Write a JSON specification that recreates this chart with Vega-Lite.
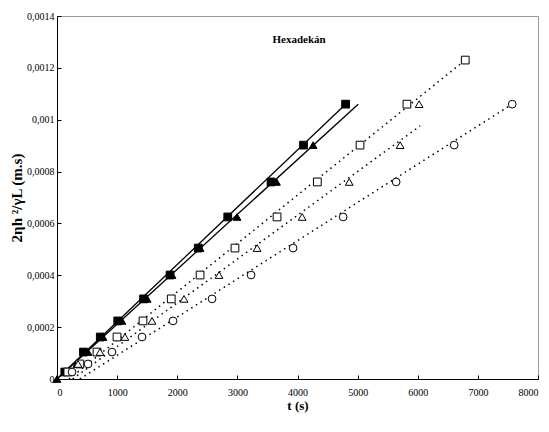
{
  "$schema": "https://vega.github.io/schema/vega-lite/v6.json",
  "width": 481,
  "height": 363,
  "autosize": {"type": "none"},
  "padding": {"left": 57, "top": 16, "right": 11, "bottom": 53},
  "config": {
    "locale": {"number": {"decimal": ",", "thousands": "", "grouping": [3], "currency": ["", ""]}},
    "font": "Times New Roman, Liberation Serif, serif",
    "view": {"stroke": "#999999", "strokeWidth": 1},
    "axis": {"grid": false, "domainColor": "black", "tickColor": "black", "labelColor": "black", "titleColor": "black", "labelFont": "Times New Roman, Liberation Serif, serif", "titleFont": "Times New Roman, Liberation Serif, serif", "labelFontSize": 10, "titleFontSize": 13, "titleFontWeight": "bold"}
  },
  "datasets": {
    "pts": [
      {"series": "s1", "t": 130, "v": 0.000027},
      {"series": "s1", "t": 440, "v": 0.000104},
      {"series": "s1", "t": 720, "v": 0.000162},
      {"series": "s1", "t": 1010, "v": 0.000224},
      {"series": "s1", "t": 1440, "v": 0.000309},
      {"series": "s1", "t": 1880, "v": 0.000401},
      {"series": "s1", "t": 2350, "v": 0.000505},
      {"series": "s1", "t": 2840, "v": 0.000625},
      {"series": "s1", "t": 3560, "v": 0.00076},
      {"series": "s1", "t": 4100, "v": 0.000902},
      {"series": "s1", "t": 4800, "v": 0.00106},
      {"series": "s2", "t": 0, "v": 0},
      {"series": "s2", "t": 330, "v": 0.000058},
      {"series": "s2", "t": 516, "v": 0.000104},
      {"series": "s2", "t": 765, "v": 0.000162},
      {"series": "s2", "t": 1080, "v": 0.000224},
      {"series": "s2", "t": 1500, "v": 0.000309},
      {"series": "s2", "t": 1913, "v": 0.000401},
      {"series": "s2", "t": 2380, "v": 0.000505},
      {"series": "s2", "t": 2995, "v": 0.000625},
      {"series": "s2", "t": 3650, "v": 0.00076},
      {"series": "s2", "t": 4260, "v": 0.000902},
      {"series": "s3", "t": 180, "v": 0.000027},
      {"series": "s3", "t": 380, "v": 0.000058},
      {"series": "s3", "t": 665, "v": 0.000104},
      {"series": "s3", "t": 998, "v": 0.000162},
      {"series": "s3", "t": 1430, "v": 0.000224},
      {"series": "s3", "t": 1900, "v": 0.000309},
      {"series": "s3", "t": 2380, "v": 0.000401},
      {"series": "s3", "t": 2960, "v": 0.000505},
      {"series": "s3", "t": 3660, "v": 0.000625},
      {"series": "s3", "t": 4330, "v": 0.00076},
      {"series": "s3", "t": 5040, "v": 0.000902},
      {"series": "s3", "t": 5820, "v": 0.00106},
      {"series": "s3", "t": 6790, "v": 0.00123},
      {"series": "s4", "t": 350, "v": 0.000058},
      {"series": "s4", "t": 715, "v": 0.000104},
      {"series": "s4", "t": 1130, "v": 0.000162},
      {"series": "s4", "t": 1580, "v": 0.000224},
      {"series": "s4", "t": 2113, "v": 0.000309},
      {"series": "s4", "t": 2695, "v": 0.000401},
      {"series": "s4", "t": 3328, "v": 0.000505},
      {"series": "s4", "t": 4077, "v": 0.000625},
      {"series": "s4", "t": 4860, "v": 0.00076},
      {"series": "s4", "t": 5707, "v": 0.000902},
      {"series": "s4", "t": 6023, "v": 0.00106},
      {"series": "s5", "t": 250, "v": 0.000027},
      {"series": "s5", "t": 516, "v": 0.000058},
      {"series": "s5", "t": 915, "v": 0.000104},
      {"series": "s5", "t": 1414, "v": 0.000162},
      {"series": "s5", "t": 1930, "v": 0.000224},
      {"series": "s5", "t": 2579, "v": 0.000309},
      {"series": "s5", "t": 3228, "v": 0.000401},
      {"series": "s5", "t": 3927, "v": 0.000505},
      {"series": "s5", "t": 4759, "v": 0.000625},
      {"series": "s5", "t": 5641, "v": 0.00076},
      {"series": "s5", "t": 6606, "v": 0.000902},
      {"series": "s5", "t": 7571, "v": 0.00106}
    ],
    "fits": [
      {"series": "s1", "style": "solid", "t": 0, "v": 0},
      {"series": "s1", "style": "solid", "t": 4800, "v": 0.00106},
      {"series": "s2", "style": "solid", "t": 0, "v": 0},
      {"series": "s2", "style": "solid", "t": 5010, "v": 0.00106},
      {"series": "s3", "style": "dotted", "t": 200, "v": 0},
      {"series": "s3", "style": "dotted", "t": 6790, "v": 0.00123},
      {"series": "s4", "style": "dotted", "t": 260, "v": 0},
      {"series": "s4", "style": "dotted", "t": 6040, "v": 0.000976},
      {"series": "s5", "style": "dotted", "t": 380, "v": 0},
      {"series": "s5", "style": "dotted", "t": 7571, "v": 0.00106}
    ],
    "label": [{"t": 4027, "v": 0.001307, "text": "Hexadekán"}]
  },
  "layer": [
    {
      "data": {"name": "fits"},
      "transform": [{"filter": "datum.style == 'solid'"}],
      "mark": {"type": "line", "color": "black", "strokeWidth": 1.3, "clip": true},
      "encoding": {
        "x": {"field": "t", "type": "quantitative", "scale": {"domain": [0, 8000], "nice": false}},
        "y": {"field": "v", "type": "quantitative", "scale": {"domain": [0, 0.0014], "nice": false}},
        "detail": {"field": "series"}
      }
    },
    {
      "data": {"name": "fits"},
      "transform": [{"filter": "datum.style == 'dotted'"}],
      "mark": {"type": "line", "color": "black", "strokeWidth": 1.5, "strokeDash": [1.5, 4], "clip": true},
      "encoding": {
        "x": {"field": "t", "type": "quantitative"},
        "y": {"field": "v", "type": "quantitative"},
        "detail": {"field": "series"}
      }
    },
    {
      "data": {"name": "pts"},
      "mark": {"type": "point", "size": 60, "strokeWidth": 1, "opacity": 1, "filled": false, "stroke": "black"},
      "encoding": {
        "x": {"field": "t", "type": "quantitative", "title": "t  (s)", "axis": {"values": [0, 1000, 2000, 3000, 4000, 5000, 6000, 7000, 8000], "format": "d", "tickSize": -4, "labelPadding": 12, "titlePadding": 2}},
        "y": {"field": "v", "type": "quantitative", "title": "2ηh ²/γL (m.s)", "axis": {"values": [0, 0.0002, 0.0004, 0.0006, 0.0008, 0.001, 0.0012, 0.0014], "format": "~f", "tickSize": -4, "labelPadding": 7, "titlePadding": 2, "titleFontSize": 15}},
        "shape": {"field": "series", "type": "nominal", "legend": null, "scale": {"domain": ["s1", "s2", "s3", "s4", "s5"], "range": ["square", "triangle-up", "square", "triangle-up", "circle"]}},
        "fill": {"field": "series", "type": "nominal", "legend": null, "scale": {"domain": ["s1", "s2", "s3", "s4", "s5"], "range": ["black", "black", "white", "white", "white"]}}
      }
    },
    {
      "data": {"name": "label"},
      "mark": {"type": "text", "font": "Times New Roman, Liberation Serif, serif", "fontSize": 11, "fontWeight": "bold", "color": "black"},
      "encoding": {
        "x": {"field": "t", "type": "quantitative"},
        "y": {"field": "v", "type": "quantitative"},
        "text": {"field": "text"}
      }
    }
  ]
}
